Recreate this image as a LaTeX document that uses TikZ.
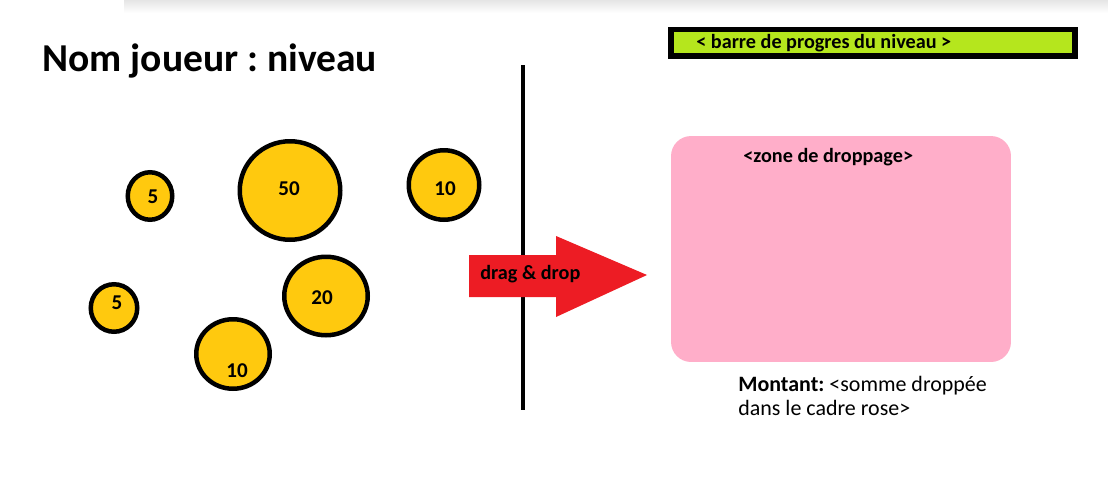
\documentclass[tikz,border=0pt]{standalone}
\usepackage{fontspec}
\setmainfont{Carlito}
\usepackage{tikz}
\usetikzlibrary{shapes,positioning}
\definecolor{coingold}{RGB}{255,201,14}
\definecolor{arrowred}{RGB}{237,28,36}
\definecolor{droppink}{RGB}{255,174,201}
\definecolor{barlime}{RGB}{181,230,29}
\frenchspacing
\tikzset{
    coin/.style={ellipse, draw=black, fill=coingold, line width=0.09cm, inner sep=0pt},
    coinval/.style={font=\fontsize{12}{14}\selectfont\bfseries, inner sep=0pt},
    lbl/.style={font=\fontsize{11.5}{13}\selectfont\bfseries, inner sep=0pt, anchor=base west},
    plain/.style={font=\fontsize{12.5}{15}\selectfont, inner sep=0pt, anchor=base west},
    title/.style={font=\fontsize{22.5}{26}\selectfont\bfseries, inner sep=0pt, anchor=base west},
    progbar/.style={rectangle, draw=black, fill=barlime, line width=0.11cm, minimum width=8.08cm, minimum height=0.53cm},
    dropzone/.style={rectangle, fill=droppink, rounded corners=0.4cm, minimum width=6.8cm, minimum height=4.52cm},
    divider/.style={line width=0.08cm, black},
}

\begin{document}
\begin{tikzpicture}[x=0.02cm, y=-0.02cm]
    \useasboundingbox (0,0) rectangle (1108,490);
    % Top shadow
    \shade[top color=black!10, bottom color=white] (124,0) rectangle (1108,13);
    % Title
    \node[title] (player) at (42,71) {Nom joueur : niveau};
    % Progress bar
    \node[progbar] (bar) at (873,42.75) {};
    \node[lbl] (bartext) at (696,48) {< barre de progres du niveau >};
    % Coins
    \foreach \n/\cx/\cy/\rx/\ry/\tx/\ty/\v in {
        a/150/196/24.5/26/153/197/5,
        b/290/190.5/52.5/51.5/289/189/50,
        c/444/185/37.5/37/445/189/10,
        d/114/308/25.5/26/117/303/5,
        e/326/296/44/41.5/322/298/20,
        f/233/354/39/37/237/371/10} {
        \node[coin, minimum width={(2*\rx-4.5)*0.02cm}, minimum height={(2*\ry-4.5)*0.02cm}] (coin\n) at (\cx,\cy) {};
        \node[coinval] (val\n) at (\tx,\ty) {\v};
    }
    % Divider
    \coordinate (divtop) at (523,65);
    \coordinate (divbot) at (523,410);
    \draw[divider] (divtop) -- (divbot);
    % Drag arrow
    \fill[arrowred] (469,255) -- (556,255) -- (556,236) -- (647,275) -- (556,317) -- (556,297) -- (469,297) -- cycle;
    \node[lbl] (drag) at (480,279) {drag \& drop};
    % Drop zone
    \node[dropzone] (zone) at (841,249) {};
    \node[lbl] (zonetext) at (743,162) {<zone de droppage>};
    % Amount
    \node[plain] (montant1) at (738,391) {\textbf{Montant:} <somme droppée};
    \node[plain] (montant2) at (738,415) {dans le cadre rose>};
\end{tikzpicture}
\end{document}
